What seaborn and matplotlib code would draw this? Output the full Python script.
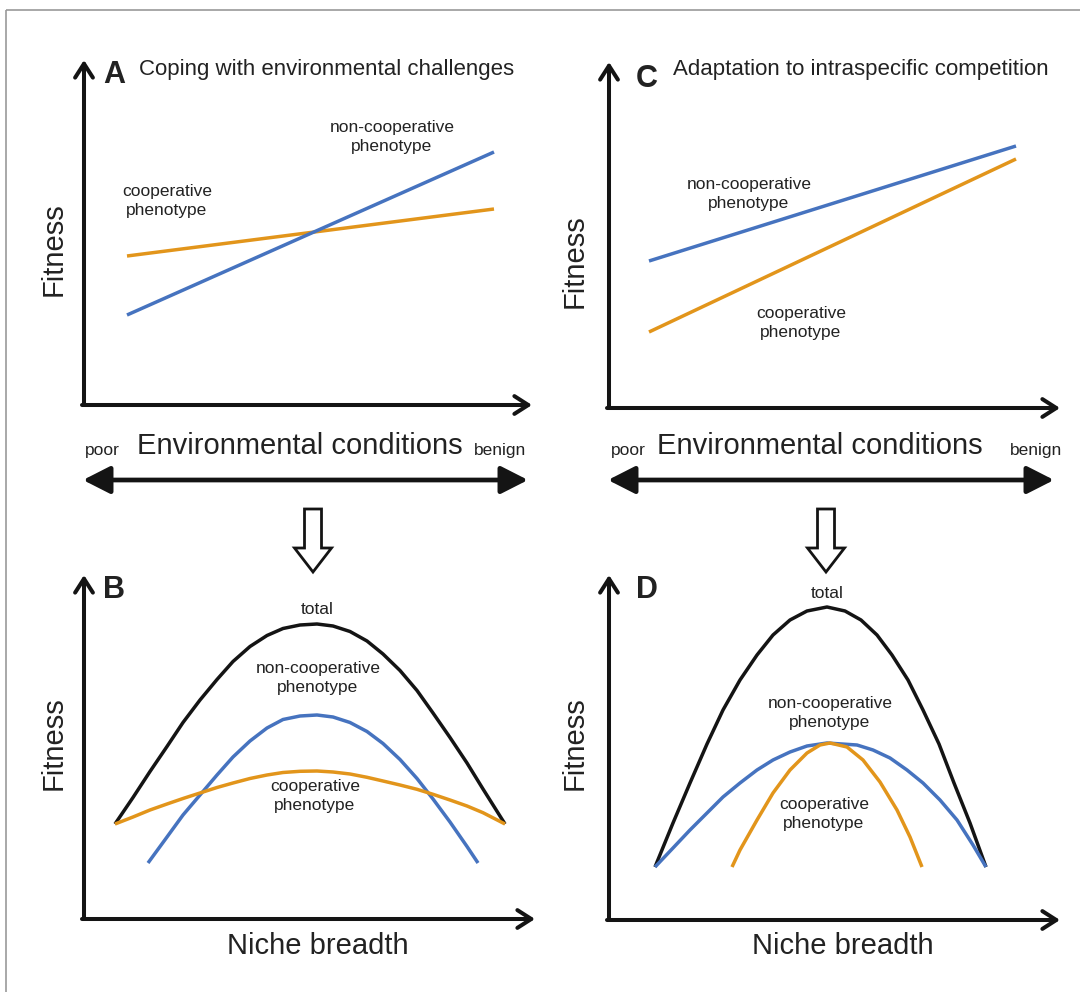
import matplotlib
matplotlib.use('Agg')
import matplotlib.pyplot as plt
import matplotlib.patches as mpatches
import seaborn as sns

W, H = 1080, 992

BLUE = '#4673bf'
ORANGE = '#e2951b'
BLACK = '#141414'

# --- Panel A: coping with environmental challenges (straight lines) ---
a_x = [43, 410]
a_coop = [149, 196]
a_noncoop = [90, 253]

# --- Panel C: adaptation to intraspecific competition ---
c_x = [40, 407]
c_coop = [76, 249]
c_noncoop = [147, 262]

# --- Panel B: niche breadth curves ---
b_x = [31, 49, 66, 83, 99, 116, 133, 149, 166, 183, 199, 216, 233,
       249, 266, 283, 299, 316, 333, 349, 366, 383, 399, 421]
b_total = [95, 121.5, 147.5, 172.5, 196.5, 219, 239.5, 257.5, 272.5, 283.5, 290.5, 294, 295,
           293, 287.5, 278, 265, 248.5, 228.5, 206, 181.5, 156, 130, 95]
b_coop = [95, 102, 109, 115, 120.5, 126, 131.5, 136, 140.5, 144, 146.5, 147.7, 148,
          147, 145, 141.7, 138, 134, 129.7, 124.7, 119, 113, 106.3, 95]
b_noncoop_x = [64, 83, 99, 116, 133, 149, 166, 183, 199, 216, 233,
               249, 266, 283, 299, 316, 333, 349, 366, 383, 394]
b_noncoop = [56, 82, 104, 124, 144, 162, 178, 191, 199.5, 203, 204,
             202, 196.5, 187.5, 175.5, 159.5, 140.5, 120, 97, 72.5, 56]

# --- Panel D: niche breadth curves ---
d_total_x = [46, 64, 81, 98, 114, 131, 148, 164, 181, 198, 218,
             236, 252, 268, 283, 299, 314, 330, 345, 361, 377]
d_total = [53, 97, 137, 176, 210, 240, 265, 285, 300, 309, 313,
           309, 300, 285, 265, 240, 210, 176, 137, 97, 53]
d_noncoop_x = [46, 64, 81, 98, 114, 131, 148, 164, 181, 198, 218,
               248, 264, 281, 298, 314, 331, 348, 364, 377]
d_noncoop = [53, 72, 90, 107, 123, 137, 150, 160, 168, 174, 177,
             175, 170, 162, 150, 137, 120, 100, 75, 53]
d_coop_x = [123, 131, 148, 164, 181, 198, 211, 221, 238, 254, 271, 288, 301, 313]
d_coop = [53, 70, 100, 127, 150, 167, 175, 177, 173, 160, 138, 110, 83, 53]

sns.set_theme(style='white')
plt.rcParams['font.family'] = ['Liberation Sans', 'DejaVu Sans']

fig = plt.figure(figsize=(W / 100, H / 100), dpi=100)
fig.patch.set_facecolor('white')

# overlay in pixel units for the annotations / arrows between panels
ov = fig.add_axes([0, 0, 1, 1])
ov.set_xlim(0, W)
ov.set_ylim(H, 0)
ov.set_axis_off()


def make_panel(left, top, right, bottom):
    ax = fig.add_axes([left / W, 1 - bottom / H, (right - left) / W, (bottom - top) / H])
    ax.set_xlim(0, right - left)
    ax.set_ylim(0, bottom - top)
    ax.set_axis_off()
    hx = 2.0 / (right - left)
    style = '->,head_length=0.5,head_width=0.32'
    ax.annotate('', xy=(1, 0), xytext=(-hx, 0), xycoords='axes fraction',
                arrowprops=dict(arrowstyle=style, lw=2.9, color=BLACK,
                                shrinkA=0, shrinkB=0, mutation_scale=20))
    ax.annotate('', xy=(0, 1), xytext=(0, 0), xycoords='axes fraction',
                arrowprops=dict(arrowstyle=style, lw=2.9, color=BLACK,
                                shrinkA=0, shrinkB=0, mutation_scale=20))
    return ax


def curve(ax, x, y, color):
    sns.lineplot(x=x, y=y, ax=ax, color=color, lw=2.5, legend=False,
                 estimator=None, sort=False, solid_joinstyle='round',
                 solid_capstyle='butt')


axA = make_panel(84, 60, 532, 405)
curve(axA, a_x, a_coop, ORANGE)
curve(axA, a_x, a_noncoop, BLUE)

axC = make_panel(609, 62, 1060, 408)
curve(axC, c_x, c_noncoop, BLUE)
curve(axC, c_x, c_coop, ORANGE)

axB = make_panel(84, 575, 535, 919)
curve(axB, b_x, b_total, BLACK)
curve(axB, b_noncoop_x, b_noncoop, BLUE)
curve(axB, b_x, b_coop, ORANGE)

axD = make_panel(609, 575, 1060, 920)
curve(axD, d_total_x, d_total, BLACK)
curve(axD, d_noncoop_x, d_noncoop, BLUE)
curve(axD, d_coop_x, d_coop, ORANGE)

# --- texts ---
small = 12.5
big = 21
ls = 1.4
txt = dict(color='#222222', ha='center', va='center')

ov.text(114, 75, 'A', fontsize=22, fontweight='bold', **txt)
ov.text(139, 69, 'Coping with environmental challenges', fontsize=16,
        color='#222222', ha='left', va='center')
ov.text(647, 79, 'C', fontsize=22, fontweight='bold', **txt)
ov.text(673, 69, 'Adaptation to intraspecific competition', fontsize=16,
        color='#222222', ha='left', va='center')
ov.text(114, 590, 'B', fontsize=22, fontweight='bold', **txt)
ov.text(647, 590, 'D', fontsize=22, fontweight='bold', **txt)

for x, y in [(54, 249), (575, 261), (54, 743), (575, 743)]:
    ov.text(x, y, 'Fitness', fontsize=big, rotation=90, **txt)
for x in [318, 843]:
    ov.text(x, 946, 'Niche breadth', fontsize=big, **txt)

ov.text(392, 137, 'non-cooperative\nphenotype', fontsize=small, linespacing=ls, **txt)
ov.text(167, 201, 'cooperative\nphenotype', fontsize=small, linespacing=ls, **txt)
ov.text(749, 194, 'non-cooperative\nphenotype', fontsize=small, linespacing=ls, **txt)
ov.text(801, 323, 'cooperative\nphenotype', fontsize=small, linespacing=ls, **txt)
ov.text(317, 610, 'total', fontsize=small, **txt)
ov.text(318, 678, 'non-cooperative\nphenotype', fontsize=small, linespacing=ls, **txt)
ov.text(315, 796, 'cooperative\nphenotype', fontsize=small, linespacing=ls, **txt)
ov.text(827, 594, 'total', fontsize=small, **txt)
ov.text(830, 713, 'non-cooperative\nphenotype', fontsize=small, linespacing=ls, **txt)
ov.text(824, 814, 'cooperative\nphenotype', fontsize=small, linespacing=ls, **txt)

# environmental gradient rows
for cx, px, bx, x0, x1 in [(300, 102, 500, 83, 528), (820, 628, 1036, 608, 1054)]:
    ov.text(cx, 446, 'Environmental conditions', fontsize=big, **txt)
    ov.text(px, 451, 'poor', fontsize=small, **txt)
    ov.text(bx, 451, 'benign', fontsize=small, **txt)
    ov.annotate('', xy=(x1, 480), xytext=(x0, 480), xycoords='data',
                arrowprops=dict(arrowstyle='<|-|>,head_length=0.55,head_width=0.28',
                                lw=3.4, color=BLACK, shrinkA=0, shrinkB=0,
                                mutation_scale=30))

# hollow down arrows
for cx in [313, 826]:
    ov.add_patch(mpatches.FancyArrow(cx, 509, 0, 63, width=17, head_width=37,
                                     head_length=24, length_includes_head=True,
                                     fc='white', ec=BLACK, lw=2))

# figure frame (top and left edges only visible)
ov.add_patch(mpatches.Rectangle((6, 10), 1200, 1100, fill=False, ec='#9a9a9a',
                                lw=1.2, clip_on=False))

fig.savefig('out.png', dpi=100)
